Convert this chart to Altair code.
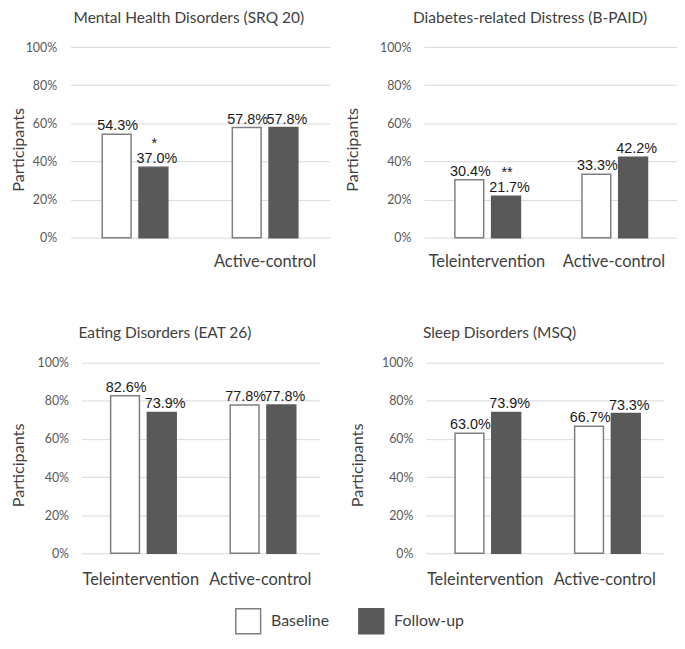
import altair as alt
import pandas as pd

groups = ["Teleintervention", "Active-control"]
times = ["Baseline", "Follow-up"]
panel_titles = [
    "Mental Health Disorders (SRQ 20)",
    "Diabetes-related Distress (B-PAID)",
    "Eating Disorders (EAT 26)",
    "Sleep Disorders (MSQ)",
]
# order: Tele baseline, Tele follow-up, Active baseline, Active follow-up
srq20 = [54.3, 37.0, 57.8, 57.8]
bpaid = [30.4, 21.7, 33.3, 42.2]
eat26 = [82.6, 73.9, 77.8, 77.8]
msq = [63.0, 73.9, 66.7, 73.3]
# significance marker on the Teleintervention follow-up bar
sig_marks = ["*", "**", "", ""]
y_ticks = [0, 20, 40, 60, 80, 100]

FONT = "Lato"
DARK = "#595959"
EDGE = "#7f7f7f"
TXT = "#404040"


def panel(title, values, sig, width, lab_pad, title_x, title_dx, x_lab_pad,
          shift=0, hide_tele=False):
    df = pd.DataFrame({
        "group": [g for g in groups for _ in times],
        "time": times * 2,
        "value": values,
    })
    df["label"] = df["value"].map(lambda v: f"{v:.1f}%")
    label_expr = "datum.value == 'Teleintervention' ? '' : datum.value" if hide_tele else "datum.value"
    xscale = dict(domain=groups, paddingInner=0.496, paddingOuter=0.244)
    if shift:
        xscale["range"] = [shift, width]
    x = alt.X("group:N", sort=groups, scale=alt.Scale(**xscale),
              axis=alt.Axis(title=None, labelAngle=0, domain=False, ticks=False, tickSize=0,
                            labelPadding=x_lab_pad, labelFont=FONT, labelFontSize=16.5,
                            labelColor=TXT, labelExpr=label_expr, grid=False))
    xo = alt.XOffset("time:N", sort=times,
                     scale=alt.Scale(domain=times, paddingInner=0.216, paddingOuter=0))
    y = alt.Y("value:Q", scale=alt.Scale(domain=[0, 100]),
              axis=alt.Axis(values=y_ticks, labelExpr="datum.value + '%'", title="Participants",
                            titleX=title_x, titleY=103, titleFont=FONT, titleFontSize=16.3,
                            titleFontWeight="normal", titleColor=TXT,
                            labelFont=FONT, labelFontSize=12.5, labelColor=DARK,
                            labelPadding=lab_pad, domain=False, ticks=False, tickSize=0,
                            grid=True, gridColor="#d9d9d9", gridWidth=1))
    base = alt.Chart(df).encode(x=x, xOffset=xo, y=y)
    bars = base.mark_bar(strokeWidth=1.5).encode(
        fill=alt.Fill("time:N", scale=alt.Scale(domain=times, range=["#ffffff", DARK]), legend=None),
        stroke=alt.Stroke("time:N", scale=alt.Scale(domain=times, range=[EDGE, DARK]), legend=None),
    )
    text_style = dict(baseline="alphabetic", dy=-4, font="Liberation Sans",
                      fontSize=14.5, color="#1a1a1a")
    text_b = base.transform_filter(alt.datum.time == times[0]).mark_text(
        dx=1, **text_style).encode(text="label:N")
    text_f = base.transform_filter(alt.datum.time == times[1]).mark_text(
        dx=3.5, **text_style).encode(text="label:N")
    layers = [bars, text_b, text_f]
    if sig:
        sdf = pd.DataFrame({"group": [groups[0]], "time": [times[1]],
                            "value": [values[1]], "mark": [sig]})
        stext = alt.Chart(sdf).mark_text(baseline="alphabetic", dy=-19, dx=1,
                                         font="Liberation Sans", fontSize=14.5,
                                         color="#1a1a1a").encode(
            x=x, xOffset=xo, y=y, text="mark:N")
        layers.append(stext)
    return alt.layer(*layers).properties(
        width=width, height=192,
        title=alt.TitleParams(text=title, anchor="start", frame="group", dx=title_dx,
                              offset=15, font=FONT, fontSize=15.6, fontWeight="normal",
                              color=TXT),
    )


p1 = panel(panel_titles[0], srq20, sig_marks[0], 261, 14, -44, 3, 16, hide_tele=True)
p2 = panel(panel_titles[1], bpaid, sig_marks[1], 255, 13, -63.5, -11, 16)
p3 = panel(panel_titles[2], eat26, sig_marks[2], 251, 2, -44, 8, 18, shift=11)
p4 = panel(panel_titles[3], msq, sig_marks[3], 240, 13, -60.5, -3, 18)

row1 = alt.hconcat(p1, p2, spacing=15)
row2 = alt.hconcat(p3, p4, spacing=30)
grid = alt.vconcat(row1, row2, spacing=56)

leg_df = pd.DataFrame({"item": times})
lx = alt.X("item:N", scale=alt.Scale(type="point", domain=times, range=[179, 303], padding=0),
           axis=None)
leg_sq = alt.Chart(leg_df).mark_square(size=625, strokeWidth=1.5, opacity=1).encode(
    x=lx,
    fill=alt.Fill("item:N", scale=alt.Scale(domain=times, range=["#ffffff", DARK]), legend=None),
    stroke=alt.Stroke("item:N", scale=alt.Scale(domain=times, range=[EDGE, DARK]), legend=None),
)
leg_tx = alt.Chart(leg_df).mark_text(align="left", baseline="middle", dx=23, font=FONT,
                                     fontSize=16, color=TXT).encode(x=lx, text="item:N")
legend = alt.layer(leg_sq, leg_tx).properties(width=420, height=25)

chart = alt.vconcat(grid, legend, spacing=18).properties(
    padding={"left": 3, "top": 0, "right": 0, "bottom": 0}, background="white"
).configure_view(strokeWidth=0)

chart.save("out.html", embed_options={"renderer": "svg", "actions": False})
